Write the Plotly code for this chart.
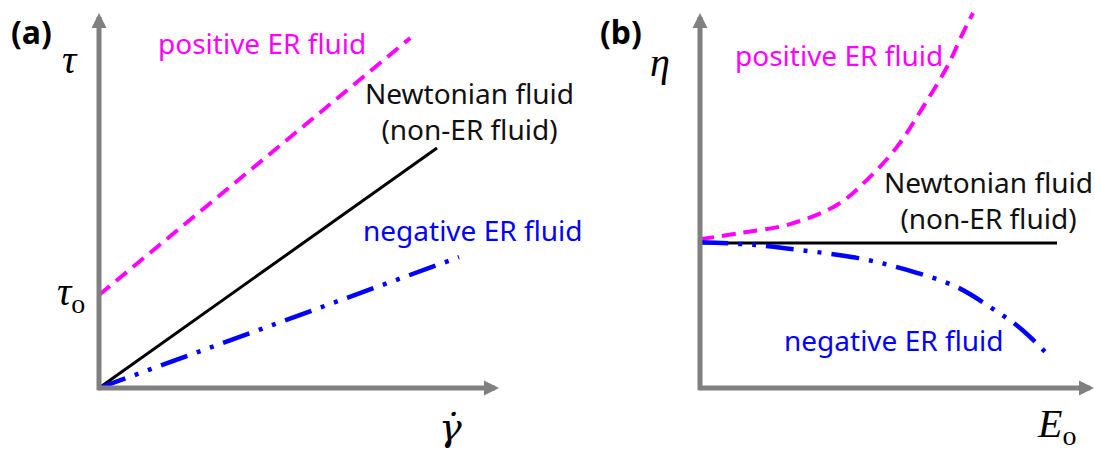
import plotly.graph_objects as go

# ---------------- data ----------------
# Panel (a): shear stress (tau) vs shear rate (gamma-dot)
rate_pos = [0.0, 7.78]
tau_pos = [2.48, 9.33]
rate_newt = [0.0, 8.45]
tau_newt = [0.0, 6.40]
rate_neg = [0.0, 9.0]
tau_neg = [0.0, 3.49]

# Panel (b): viscosity (eta) vs electric field (E_o)
field_pos = [0.0, 1.0, 2.25, 3.425, 4.175, 4.925, 5.575, 6.175, 6.575, 6.825]
eta_pos = [3.97, 4.13, 4.37, 4.88, 5.55, 6.43, 7.49, 8.56, 9.47, 10.0]
field_newt = [0.0, 8.925]
eta_newt = [3.87, 3.87]
field_neg = [0.0, 1.425, 2.5, 3.925, 5.175, 6.425, 7.25, 8.0, 8.75]
eta_neg = [3.89, 3.81, 3.68, 3.47, 3.15, 2.69, 2.16, 1.60, 0.83]

labels_a = ["positive ER fluid", "Newtonian fluid<br>(non-ER fluid)", "negative ER fluid"]
labels_b = ["positive ER fluid", "Newtonian fluid<br>(non-ER fluid)", "negative ER fluid"]

# ---------------- styles ----------------
MAGENTA = "#ff00ff"
BLUE = "#0000ff"
GRAY = "#808080"
DASH = "14px,8px"
DASHDOTDOT = "28px,10px,4px,10px,4px,10px"
TXT = "Noto Sans"
MATH = "Liberation Serif"

fig = go.Figure()

# panel (a)
fig.add_trace(go.Scatter(x=rate_pos, y=tau_pos, mode="lines", xaxis="x", yaxis="y",
                         line=dict(color=MAGENTA, width=4, dash=DASH)))
fig.add_trace(go.Scatter(x=rate_newt, y=tau_newt, mode="lines", xaxis="x", yaxis="y",
                         line=dict(color="black", width=3)))
fig.add_trace(go.Scatter(x=rate_neg, y=tau_neg, mode="lines", xaxis="x", yaxis="y",
                         line=dict(color=BLUE, width=4.5, dash=DASHDOTDOT)))

# panel (b)
fig.add_trace(go.Scatter(x=field_pos, y=eta_pos, mode="lines", xaxis="x2", yaxis="y",
                         line=dict(color=MAGENTA, width=4, dash=DASH, shape="spline")))
fig.add_trace(go.Scatter(x=field_newt, y=eta_newt, mode="lines", xaxis="x2", yaxis="y",
                         line=dict(color="black", width=3)))
fig.add_trace(go.Scatter(x=field_neg, y=eta_neg, mode="lines", xaxis="x2", yaxis="y",
                         line=dict(color=BLUE, width=4.5, dash=DASHDOTDOT, shape="spline")))

ann = []


def axis_arrow(xr, x, y, ax, ay):
    ann.append(dict(x=x, y=y, ax=ax, ay=ay, xref=xr, yref="y", axref=xr, ayref="y",
                    showarrow=True, arrowhead=2, arrowsize=0.6, arrowwidth=5,
                    arrowcolor=GRAY, text="", standoff=0))


axis_arrow("x", 0, 10.0, 0, -0.1)
axis_arrow("x", 10.0, 0, -0.06, 0)
axis_arrow("x2", 0, 10.0, 0, -0.1)
axis_arrow("x2", 9.85, 0, -0.06, 0)


def label(xr, x, y, text, color="black", size=28, family=TXT, xanchor="center"):
    ann.append(dict(x=x, y=y, xref=xr, yref="y", text=text, showarrow=False,
                    xanchor=xanchor, yanchor="middle", align="center",
                    font=dict(family=family, size=size, color=color)))


# panel (a) texts
label("x", 4.075, 9.2, labels_a[0], MAGENTA)
label("x", 9.25, 7.4, labels_a[1], "#111111")
label("x", 9.35, 4.21, labels_a[2], BLUE)
label("x", -0.725, 8.77, "<i>τ</i>", size=40, family=MATH)
label("x", -0.3, 2.5, "<i>τ</i><sub>o</sub>", size=40, family=MATH, xanchor="right")
label("x", 8.78, -1.05, "<i>γ\u0307</i>", size=38, family="DejaVu Serif")
label("x", -1.7, 9.5, "<b>(a)</b>", size=32)

# panel (b) texts
label("x2", 3.475, 8.88, labels_b[0], MAGENTA)
label("x2", 7.2, 5.01, labels_b[1], "#111111")
label("x2", 4.85, 1.28, labels_b[2], BLUE)
label("x2", -1.0, 8.68, "<i>η</i>", size=40, family=MATH)
label("x2", 8.9, -1.02, "<i>E</i><sub>o</sub>", size=40, family=MATH)
label("x2", -1.975, 9.5, "<b>(b)</b>", size=32)

hidden = dict(visible=False, showgrid=False, zeroline=False, fixedrange=True)
fig.update_layout(
    width=1095, height=454,
    margin=dict(l=0, r=0, t=0, b=0),
    paper_bgcolor="white", plot_bgcolor="white",
    showlegend=False,
    xaxis=dict(range=[-2.475, 24.9], domain=[0, 1], **hidden),
    xaxis2=dict(range=[-17.5, 9.875], domain=[0, 1], overlaying="x", **hidden),
    yaxis=dict(range=[-1.76, 10.3467], domain=[0, 1], **hidden),
    annotations=ann,
)

fig.write_html("out.html")
